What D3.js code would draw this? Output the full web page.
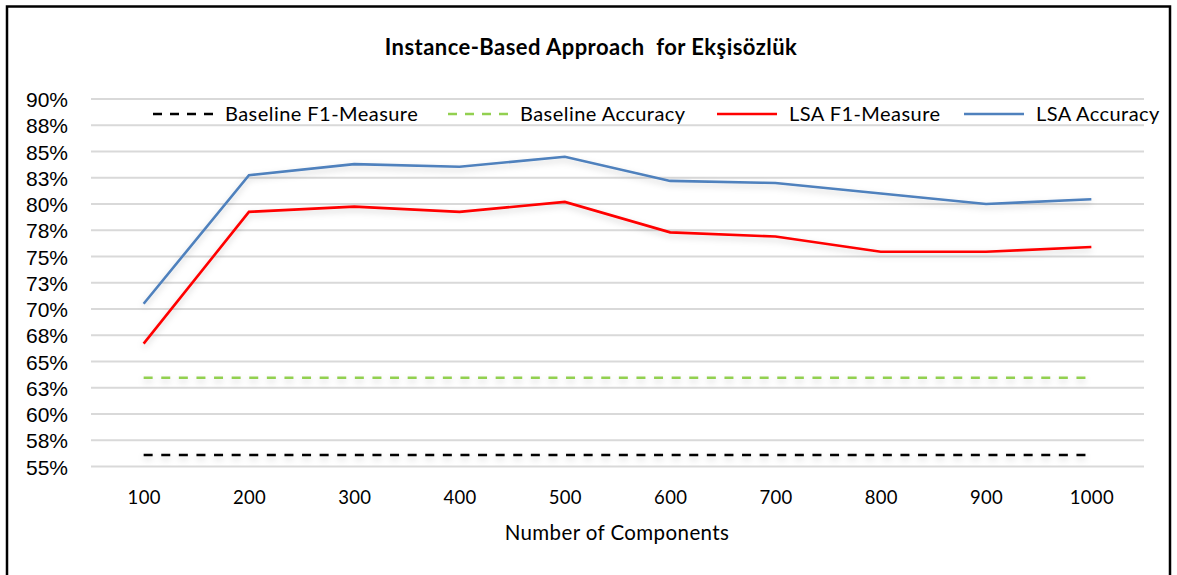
<!DOCTYPE html>
<html><head><meta charset="utf-8">
<script src="https://cdn.jsdelivr.net/npm/d3@7"></script>
<style>body{margin:0;background:#fff} svg{display:block}</style>
</head><body>
<svg id="c" width="1177" height="575"></svg>
<script>
const categories = ["100","200","300","400","500","600","700","800","900","1000"];
const lsaAccuracy = [70.5, 82.75, 83.8, 83.55, 84.5, 82.2, 82.0, 81.0, 80.0, 80.45];
const lsaF1 = [66.7, 79.25, 79.75, 79.25, 80.2, 77.3, 76.9, 75.45, 75.45, 75.9];
const baselineAccuracy = [63.45, 63.45, 63.45, 63.45, 63.45, 63.45, 63.45, 63.45, 63.45, 63.45];
const baselineF1 = [56.1, 56.1, 56.1, 56.1, 56.1, 56.1, 56.1, 56.1, 56.1, 56.1];
const yTicks = [55, 57.5, 60, 62.5, 65, 67.5, 70, 72.5, 75, 77.5, 80, 82.5, 85, 87.5, 90];
const yTickLabels = ["55%","58%","60%","63%","65%","68%","70%","73%","75%","78%","80%","83%","85%","88%","90%"];
const seriesNames = ["Baseline F1-Measure","Baseline Accuracy","LSA F1-Measure","LSA Accuracy"];
const title = "Instance-Based Approach  for Ekşisözlük";
const xTitle = "Number of Components";

const svg = d3.select("#c");
const W = 1177, H = 575;
const plot = {l: 91, r: 1144, t: 99, b: 466.5};
const calibri = "Lato, 'Open Sans', sans-serif";

// drop shadow filter (user-space region so horizontal lines still render)
const defs = svg.append("defs");
const f = defs.append("filter").attr("id","sh").attr("filterUnits","userSpaceOnUse")
  .attr("x",0).attr("y",0).attr("width",W).attr("height",H);
f.append("feDropShadow").attr("dx",0).attr("dy",3).attr("stdDeviation",3).attr("flood-color","#000").attr("flood-opacity",0.18);

// frame
svg.append("path").attr("d",`M7,${H+5} L7,6.5 L1170,6.5 L1170,${H+5}`)
  .attr("fill","none").attr("stroke","#000").attr("stroke-width",2.5);

const x = d3.scalePoint().domain(categories).range([plot.l, plot.r]).padding(0.5);
const y = d3.scaleLinear().domain([55, 90]).range([plot.b, plot.t]);

// gridlines
svg.append("g").selectAll("line").data(yTicks).join("line")
  .attr("x1", plot.l).attr("x2", plot.r)
  .attr("y1", d => y(d)).attr("y2", d => y(d))
  .attr("stroke", "#d9d9d9").attr("stroke-width", 2);

// y axis
const yAxis = d3.axisLeft(y).tickValues(yTicks).tickSize(0).tickPadding(0)
  .tickFormat((d,i) => yTickLabels[i]);
const gy = svg.append("g").attr("transform", `translate(68,0)`).call(yAxis);
gy.select(".domain").remove();
gy.selectAll("text").attr("font-family","'Liberation Sans', Arial, sans-serif").attr("font-size",21).attr("fill","#000").attr("dy","0.36em");

// x axis
const xAxis = d3.axisBottom(x).tickSize(0).tickPadding(0);
const gx = svg.append("g").attr("transform", `translate(0,491)`).call(xAxis);
gx.select(".domain").remove();
gx.selectAll("text").attr("font-family",calibri).attr("font-size",18.5).attr("letter-spacing",0.3).attr("fill","#000").attr("dy","0.71em");

// titles
svg.append("text").attr("x", 591).attr("y", 55).attr("text-anchor","middle")
  .attr("font-family",calibri).attr("font-weight","bold").attr("font-size",22).attr("letter-spacing",0.45)
  .attr("fill","#000").attr("xml:space","preserve").style("white-space","pre").text(title);
svg.append("text").attr("x", 617).attr("y", 540).attr("text-anchor","middle")
  .attr("font-family",calibri).attr("font-size",20.5).attr("letter-spacing",0.4).attr("fill","#000").text(xTitle);

// series
const series = [
  {name: seriesNames[0], values: baselineF1, color: "#000000", dash: "9,8.6"},
  {name: seriesNames[1], values: baselineAccuracy, color: "#92D050", dash: "9,8.6"},
  {name: seriesNames[2], values: lsaF1, color: "#FF0000", dash: null},
  {name: seriesNames[3], values: lsaAccuracy, color: "#4F81BD", dash: null},
];
const line = d3.line().x((d,i) => x(categories[i])).y(d => y(d));
svg.append("g").selectAll("path").data(series).join("path")
  .attr("d", d => line(d.values))
  .attr("fill","none").attr("stroke", d => d.color).attr("stroke-width", 2.6)
  .attr("stroke-dasharray", d => d.dash).attr("filter","url(#sh)");

// legend
const legX = [153, 448, 717, 964];
const legY = 114;
const lg = svg.append("g").selectAll("g").data(series).join("g")
  .attr("transform", (d,i) => `translate(${legX[i]},${legY})`);
lg.append("line").attr("x1",0).attr("x2",60).attr("y1",0).attr("y2",0)
  .attr("stroke", d => d.color).attr("stroke-width", 2.6)
  .attr("stroke-dasharray", d => d.dash ? "9,8" : null);
lg.append("text").attr("x", 72).attr("y", 0).attr("dy","0.35em")
  .attr("font-family",calibri).attr("font-size",20).attr("letter-spacing",0.45).attr("fill","#000")
  .text(d => d.name);
</script>
</body></html>
